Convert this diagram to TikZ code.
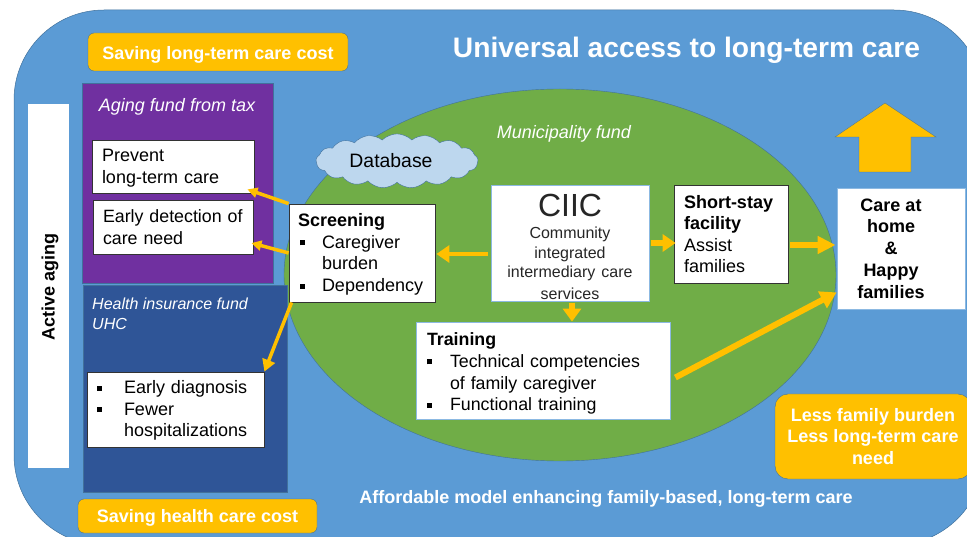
\documentclass[tikz,border=0pt]{standalone}
\usepackage{fontspec}
\setmainfont{Liberation Sans}
\usetikzlibrary{arrows.meta,shapes.symbols,shapes.geometric}

\definecolor{skyblue}{HTML}{5B9BD5}
\definecolor{skyedge}{HTML}{41719C}
\definecolor{leaf}{HTML}{70AD47}
\definecolor{plum}{HTML}{7030A0}
\definecolor{navy}{HTML}{2F5597}
\definecolor{amber}{HTML}{FFC000}
\definecolor{paleblue}{HTML}{BDD7EE}

\newcommand{\bul}[1][23pt]{\makebox[#1][l]{\rule[3pt]{5pt}{5pt}}}
\newcommand{\txt}[2]{\fontsize{#1}{#2}\selectfont}
\newcommand{\topline}[1]{\rule{0pt}{#1}}

\tikzset{
    x=1pt, y=-1pt,
    panel/.style={draw=skyedge, line width=0.4pt, inner sep=0pt},
    whitebox/.style={draw=black!80, line width=0.8pt, fill=white, inner xsep=10pt, inner ysep=0pt, align=left, font=\txt{18}{21.6}},
    lightbox/.style={whitebox, draw=skyblue!70},
    savebox/.style={draw=skyedge, line width=0.4pt, fill=amber, rounded corners=6pt, text=white, align=center, inner sep=0pt, font=\txt{18}{21.5}\bfseries},
    fundtext/.style={text=white, align=left, inner sep=0pt, font=\txt{18}{20}\itshape},
    goarrow/.style={draw=amber, line width=#1},
    goarrow/.default=3.5pt
}

\begin{document}
\begin{tikzpicture}
    \clip (0,0) rectangle (967,537);

    \draw[fill=skyblue, draw=skyedge, line width=0.5pt, rounded corners=90pt] (14,10) rectangle (984,545);
    \node[panel, ellipse, fill=leaf, minimum width=552pt, minimum height=372pt] (municipality) at (560,275) {};

    \node[text=white, inner sep=0pt, font=\txt{28.2}{32}\bfseries] (title) at (686.5,50) {Universal access to long-term care};
    \node[savebox, text height=17pt, text depth=2pt, minimum width=260pt, minimum height=38pt] (savelong) at (218,52) {Saving long-term care cost};
    \node[savebox, text height=15pt, text depth=2pt, minimum width=239pt, minimum height=34pt] (savehealth) at (197.5,516) {Saving health care cost};
    \node[savebox, rounded corners=13pt, minimum width=196pt, minimum height=85pt] (lessburden) at (873,436.5) {Less family burden\\Less long-term care\\need};
    \node[text=white, inner sep=0pt, font=\txt{18}{21}\bfseries] (affordable) at (606,499) {Affordable model enhancing family-based, long-term care};

    \node[fill=white, minimum width=41pt, minimum height=364pt, inner sep=0pt] (activebar) at (48.5,286) {};
    \node[rotate=90, inner sep=0pt, font=\txt{18}{21}\bfseries] (activetext) at (50,287) {Active aging};

    % funds
    \node[panel, fill=plum, minimum width=191pt, minimum height=200pt] (agingfund) at (177.5,183) {};
    \node[fundtext] (agingtext) at (177,107) {Aging fund from tax};
    \node[panel, fill=navy, minimum width=204pt, minimum height=207pt] (healthfund) at (185,388.5) {};
    \node[fundtext, anchor=north west, font=\txt{16}{20}\itshape] (healthtext) at (92,298) {Health insurance fund\\UHC};
    \node[fundtext] (municipalitytext) at (564,134) {Municipality fund};

    \node[whitebox, text width=142pt, minimum height=53pt] (prevent) at (173,166.5) {\topline{16pt}Prevent\\long-term care};
    \node[whitebox, text width=140pt, inner xsep=10pt, minimum height=54pt, font=\txt{17.8}{21.6}] (detection) at (173,227) {Early detection of\\care need};
    \node[whitebox, text width=157pt, minimum height=75pt] (diagnosis) at (175.5,409.5) {\topline{15pt}\bul[27pt]Early diagnosis\\\bul[27pt]Fewer\\\hspace*{27pt}hospitalizations};

    \node[cloud, cloud puffs=17, cloud puff arc=90, aspect=3, draw=skyedge, line width=0.4pt, fill=paleblue, minimum width=162pt, minimum height=54pt, inner sep=0pt, font=\txt{19.4}{21}] (database) at (397,161) {Database\hspace*{12pt}};

    \node[whitebox, inner xsep=9pt, text width=128pt, minimum height=98pt] (screening) at (362,253) {\topline{16pt}\textbf{Screening}\\\hspace*{2pt}\bul[22pt]Caregiver\\\hspace*{24pt}burden\\\hspace*{2pt}\bul[22pt]Dependency};
    \node[lightbox, text width=138pt, minimum height=116pt, align=center, text=black!85] (ciic) at (570,243) {{\txt{32}{36}\topline{30pt}CIIC}\\[3pt]{\txt{16}{19.3}Community\\integrated\\intermediary care\\services}};
    \node[whitebox, text width=94pt, minimum height=98pt] (shortstay) at (731,234) {\textbf{Short-stay}\\\textbf{facility}\\Assist\\families};
    \node[lightbox, inner xsep=11pt, text width=232pt, minimum height=97pt, font=\txt{17.8}{21.7}] (training) at (543,370.5) {\topline{19pt}\textbf{Training}\\\bul Technical competencies\\\hspace*{23pt}of family caregiver\\\bul Functional training};
    \node[lightbox, minimum height=121pt, minimum width=128pt, font=\txt{18}{21.7}\bfseries] (carehome) at (901,248.5) {\parbox{88pt}{\centering Care at\\home\\\&\\Happy\\families}\hspace*{20pt}};

    \fill[amber, draw=skyedge, line width=0.3pt] (885,103) -- (936,137) -- (911,137) -- (911,172) -- (859,172) -- (859,137) -- (835,137) -- cycle;

    % arrows out of screening
    \draw[goarrow, -{Triangle[length=10pt,width=10pt]}] (screening.north west) -- ([shift={(-7,-4)}]prevent.south east);
    \draw[goarrow, -{Triangle[length=10pt,width=10pt]}] (screening.west) -- ([shift={(-2,16)}]detection.east);
    \draw[goarrow, -{Triangle[length=12pt,width=13pt]}] ([xshift=3pt]screening.south west) -- (diagnosis.north east);

    % arrows out of ciic
    \draw[goarrow=4.5pt, -{Triangle[length=13pt,width=17pt]}] ([shift={(-3,11)}]ciic.west) -- ([shift={(1,1)}]screening.east);
    \draw[goarrow=5.5pt, -{Triangle[length=13pt,width=17pt]}] ([xshift=2pt]ciic.east) -- ([xshift=2pt]ciic.east -| shortstay.west);
    \draw[goarrow=5.5pt, -{Triangle[length=13pt,width=18pt]}] ([shift={(2,2)}]ciic.south) -- ([xshift=2pt]ciic.south |- training.north);

    \draw[goarrow=6pt, -{Triangle[length=18pt,width=17pt]}] ([shift={(2,11)}]shortstay.east) -- ([shift={(-1,11)}]shortstay.east -| carehome.west);
    \draw[goarrow=6pt, -{Triangle[length=16pt,width=18pt]}] ([shift={(5,7)}]training.east) -- ([shift={(0,-17)}]carehome.south west);
\end{tikzpicture}
\end{document}
